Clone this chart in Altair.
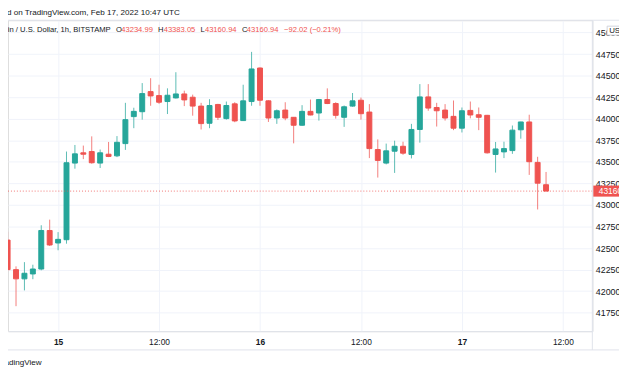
import altair as alt
import pandas as pd

# hourly candles, hour offsets relative to 2022-02-15 00:00 UTC
hours = list(range(-6, 59))
opens = [42593, 42250, 42143, 42200, 42257, 42704, 42559, 42597, 43486, 43605,
         43620, 43486, 43589, 43570, 43712, 44025, 44082, 44315, 44269, 44200,
         44242, 44288, 44250, 44147, 43948, 44166, 44002, 44173, 43979, 44200,
         44589, 44208, 44009, 44101, 44017, 43925, 44086, 44067, 44223, 44177,
         44017, 44147, 44215, 44078, 43643, 43486, 43624, 43681, 43586, 43876,
         44254, 44131, 44101, 44028, 43891, 44097, 44047, 44040, 43586, 43616,
         43631, 43872, 43963, 43494, 43234.99]
highs = [42689, 42288, 42337, 42307, 42765, 42830, 42685, 43620, 43696, 43689,
         43796, 43643, 43731, 43799, 44185, 44128, 44414, 44471, 44395, 44353,
         44540, 44326, 44280, 44185, 44227, 44173, 44200, 44192, 44395, 44776,
         44595, 44215, 44108, 44192, 44020, 44158, 44223, 44230, 44353, 44192,
         44154, 44299, 44246, 44170, 43761, 43712, 43746, 43734, 43941, 44402,
         44402, 44185, 44170, 44212, 44131, 44200, 44131, 44045, 43731, 43734,
         43922, 43965, 44047, 43559, 43383.05]
lows = [42238, 41826, 42009, 42139, 42242, 42524, 42475, 42551, 43421, 43532,
        43479, 43429, 43555, 43555, 43639, 43891, 43990, 44151, 44173, 44055,
        44235, 44147, 44036, 43876, 43891, 43986, 43990, 43960, 43975, 44151,
        44151, 43963, 43941, 43983, 43715, 43920, 44040, 43979, 44170, 44002,
        43906, 44140, 43990, 43544, 43318, 43471, 43372, 43582, 43540, 43723,
        44093, 43910, 43979, 43868, 43841, 44005, 43868, 43597, 43376, 43544,
        43593, 43769, 43349, 42948, 43160.94]
closes = [42250, 42143, 42208, 42257, 42704, 42536, 42601, 43490, 43593, 43589,
          43490, 43605, 43563, 43727, 43990, 44086, 44292, 44265, 44192, 44273,
          44288, 44219, 44147, 43944, 44154, 44017, 44154, 43975, 44208, 44578,
          44215, 44009, 44093, 44009, 43925, 44086, 44044, 44223, 44177, 44040,
          44139, 44208, 44059, 43654, 43517, 43628, 43681, 43601, 43876, 44254,
          44124, 44093, 44009, 43891, 44093, 44044, 44017, 43605, 43650, 43654,
          43868, 43963, 43502, 43253, 43160.94]
price_ticks = [41750, 42000, 42250, 42500, 42750, 43000, 43250, 43500, 43750,
               44000, 44250, 44500, 44750, 45000]

GREEN = "#26a69a"
RED = "#ef5350"
TEXT = "#131722"
LINE = "#e0e3eb"
GRID = "#f0f3fa"
FONT = "Liberation Sans"

base = pd.Timestamp("2022-02-15T00:00:00")
times = [(base + pd.Timedelta(hours=h)).strftime("%Y-%m-%dT%H:%M:%SZ") for h in hours]
df = pd.DataFrame({"t": times, "open": opens, "high": highs, "low": lows, "close": closes})
last = df.tail(1)
one = pd.DataFrame({"a": [0]})

W, H = 592, 315


def dt(d, h, m=0):
    return alt.DateTime(year=2022, month=2, date=d, hours=h, minutes=m, utc=True)


xscale = alt.Scale(type="utc", domain=[dt(14, 18, 38), dt(17, 14, 55)])
yscale = alt.Scale(domain=[41536, 45143], nice=False, zero=False)

xaxis = alt.Axis(
    values=[dt(15, 0), dt(15, 12), dt(16, 0), dt(16, 12), dt(17, 0), dt(17, 12)],
    labelExpr="utchours(datum.value) == 0 ? utcFormat(datum.value, '%-d') : utcFormat(datum.value, '%H:%M')",
    labelFontWeight={"condition": {"test": "utchours(datum.value) == 0", "value": "bold"}, "value": "normal"},
    title=None, tickSize=0, labelPadding=6, labelFontSize=8.5, labelColor=TEXT,
    labelFont=FONT, labelOverlap=False, labelFlush=False,
    domainColor=LINE, gridColor=GRID, grid=True,
)
yaxis = alt.Axis(
    orient="right", values=price_ticks, format="d", title=None, tickSize=0,
    labelPadding=3, labelFontSize=9, labelColor=TEXT, labelFont=FONT,
    labelOverlap=False, labelFlush=False, labelBaseline="middle",
    domainColor=LINE, gridColor=GRID, grid=True,
)

color_cond = alt.condition("datum.close >= datum.open", alt.value(GREEN), alt.value(RED))

X = alt.X("t:T", scale=xscale, axis=xaxis)

wicks = alt.Chart(df).mark_rule(strokeWidth=1, opacity=0.75, clip=True).encode(
    x=X,
    y=alt.Y("low:Q", scale=yscale, axis=yaxis),
    y2="high:Q",
    color=color_cond,
)

bodies = alt.Chart(df).mark_bar(size=5, strokeWidth=1, clip=True).encode(
    x=X,
    y=alt.Y("open:Q", scale=yscale, axis=yaxis),
    y2="close:Q",
    color=color_cond,
    stroke=color_cond,
)

dotted = alt.Chart(last).mark_rule(color=RED, strokeDash=[1, 2], strokeWidth=1, opacity=0.8).encode(
    y=alt.Y("close:Q", scale=yscale, axis=yaxis), x=alt.value(0), x2=alt.value(W)
)

tag = alt.Chart(last).transform_calculate(
    top="datum.close + 64", bot="datum.close - 64"
).mark_rect(color=RED).encode(
    y=alt.Y("top:Q", scale=yscale, axis=yaxis), y2="bot:Q", x=alt.value(593), x2=alt.value(619)
)
tag_text = alt.Chart(last).mark_text(
    color="white", align="left", baseline="middle", fontSize=8.5, font=FONT
).encode(
    y=alt.Y("close:Q", scale=yscale, axis=yaxis), x=alt.value(598.5),
    text=alt.Text("close:Q", format=".2f"),
)

usd_box = alt.Chart(one).mark_rect(fill="white", stroke="#d1d4dc", strokeWidth=1).encode(
    x=alt.value(607), x2=alt.value(626), y=alt.value(6), y2=alt.value(15)
)
usd_text = alt.Chart(one).mark_text(
    text="USD", align="left", baseline="middle", fontSize=8, font=FONT, color=TEXT
).encode(x=alt.value(609), y=alt.value(10.8))

frame = [
    alt.Chart(one).mark_rule(color=LINE, strokeWidth=1).encode(
        x=alt.value(-10), x2=alt.value(619), y=alt.value(0)),
    alt.Chart(one).mark_rule(color=LINE, strokeWidth=1).encode(
        x=alt.value(-10), x2=alt.value(619), y=alt.value(334)),
    alt.Chart(one).mark_rule(color=LINE, strokeWidth=1).encode(
        x=alt.value(W), y=alt.value(0), y2=alt.value(334)),
]


def txt(s, x, y, color=TEXT, align="left", size=7.7, weight="normal"):
    return alt.Chart(one).mark_text(
        text=s, align=align, baseline="middle", fontSize=size, font=FONT,
        color=color, fontWeight=weight,
    ).encode(x=alt.value(x), y=alt.value(y))


L2 = 9.7
header = [
    txt("Published on TradingView.com, Feb 17, 2022 10:47 UTC", 174, -7.5, align="right", size=8.2),
    txt("Bitcoin / U.S. Dollar, 1h, BITSTAMP", 104, L2, align="right"),
    txt("O", 109.3, L2), txt("43234.99", 114.7, L2, color=RED),
    txt("H", 152, L2), txt("43383.05", 157.7, L2, color=RED),
    txt("L", 195, L2), txt("43160.94", 199.5, L2, color=RED),
    txt("C", 237, L2), txt("43160.94", 242, L2, color=RED),
    txt("\u221292.02 (\u22120.21%)", 279.7, L2, color=RED),
    txt("TradingView", 34, 347, align="right", size=8.2),
]

chart = alt.layer(
    wicks, bodies, dotted, tag, tag_text, usd_box, usd_text, *frame, *header
).properties(
    width=W, height=H,
    padding={"left": 0, "top": 10, "right": 27, "bottom": 43},
    autosize=alt.AutoSizeParams(type="none"),
).configure_view(strokeWidth=0).configure(background="white")

chart.save("out.html", embed_options={"renderer": "svg", "actions": False})
